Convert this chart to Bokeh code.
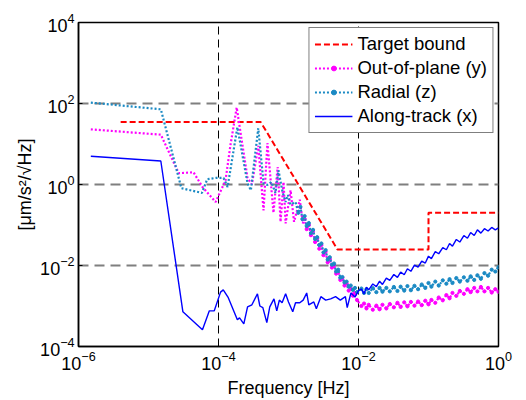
from bokeh.plotting import figure
from bokeh.models import FixedTicker, Legend, LegendItem, Range1d
from bokeh.embed import file_html
from bokeh.resources import INLINE

# ---------------- data ----------------
target_f = [4e-6, 4e-4, 5e-3, 0.1, 0.1, 1.0]
target_a = [35, 35, 0.025, 0.025, 0.2, 0.2]

along_f = [1.5e-6, 1.5e-5, 3.1e-5, 5.9e-5, 7.4e-5, 8.7e-5, 1.07e-4, 1.17e-4, 1.38e-4, 1.86e-4,
           2.0e-4, 2.3e-4, 2.6e-4, 3.0e-4, 3.6e-4, 3.9e-4, 4.3e-4, 4.9e-4, 5.4e-4, 6.2e-4,
           6.8e-4, 7.4e-4, 8.1e-4, 9.1e-4, 1.0e-3, 1.15e-3, 1.26e-3, 1.45e-3, 1.62e-3, 1.82e-3,
           1.95e-3, 2.3e-3, 2.5e-3, 2.9e-3, 3.4e-3, 4.0e-3, 4.7e-3, 5.5e-3, 6.5e-3, 6.9e-3,
           7.8e-3, 8.9e-3, 1.0e-2,
           1.1e-2, 1.2e-2, 1.3e-2, 1.4e-2, 1.6e-2, 1.8e-2, 2.0e-2, 2.2e-2, 2.5e-2, 2.8e-2,
           3.2e-2, 3.6e-2, 4.0e-2, 4.5e-2, 5.0e-2, 5.6e-2, 6.3e-2, 7.1e-2, 8.0e-2, 9.0e-2,
           0.10, 0.11, 0.125, 0.14, 0.16, 0.18, 0.20, 0.22, 0.25, 0.28,
           0.32, 0.36, 0.40, 0.45, 0.50, 0.56, 0.63, 0.71, 0.80, 0.90, 1.0]
along_a = [5.0, 3.8, 7.2e-4, 2.6e-4, 7.6e-4, 7.6e-4, 2.2e-3, 2.5e-3, 1.6e-3, 4.6e-4,
           5.1e-4, 3.6e-4, 9.5e-4, 1.07e-3, 2.0e-3, 1.0e-3, 9.1e-4, 3.9e-4, 9.5e-4, 1.5e-3,
           7.6e-4, 1.4e-3, 1.2e-3, 2.0e-3, 1.26e-3, 7.2e-4, 1.2e-3, 1.2e-3, 1.4e-3, 2.1e-3,
           1.07e-3, 1.26e-3, 8.5e-4, 1.7e-3, 1.4e-3, 1.5e-3, 1.7e-3, 1.4e-3, 1.7e-3, 9.1e-4,
           2.1e-3, 1.66e-3, 2.4e-3,
           2.6e-3, 2.0e-3, 2.9e-3, 2.5e-3, 3.5e-3, 3.0e-3, 4.1e-3, 3.4e-3, 4.9e-3, 4.3e-3,
           6.0e-3, 5.1e-3, 6.9e-3, 5.9e-3, 8.3e-3, 7.2e-3, 1.02e-2, 9.1e-3, 1.29e-2, 1.15e-2,
           1.7e-2, 1.48e-2, 2.2e-2, 1.95e-2, 2.75e-2, 2.45e-2, 3.5e-2, 3.0e-2, 4.4e-2, 3.8e-2,
           5.5e-2, 4.7e-2, 6.5e-2, 5.5e-2, 7.6e-2, 6.3e-2, 8.1e-2, 7.1e-2, 8.7e-2, 7.6e-2, 8.5e-2]

radial_f = [1.5e-6, 1.5e-5, 2.95e-5, 5.8e-5, 6.9e-5, 9.1e-5, 1.18e-4, 1.35e-4, 1.86e-4, 2.6e-4,
            2.9e-4, 3.7e-4, 4.4e-4, 5.0e-4, 5.7e-4, 6.5e-4, 7.2e-4, 8.2e-4, 9.1e-4, 9.8e-4,
            1.07e-3, 1.26e-3,
            1.38e-3, 1.48e-3, 1.58e-3, 1.70e-3, 1.82e-3, 1.95e-3, 2.09e-3, 2.24e-3, 2.40e-3, 2.57e-3,
            2.75e-3, 2.95e-3, 3.16e-3, 3.39e-3, 3.63e-3, 3.89e-3, 4.17e-3, 4.47e-3, 4.79e-3, 5.13e-3,
            5.50e-3, 5.89e-3, 6.31e-3, 6.76e-3, 7.24e-3, 7.76e-3, 8.32e-3, 8.91e-3, 9.55e-3,
            1.1e-2, 1.2e-2, 1.3e-2, 1.4e-2, 1.6e-2, 1.8e-2, 2.0e-2, 2.2e-2, 2.5e-2, 2.8e-2,
            3.2e-2, 3.6e-2, 4.0e-2, 4.5e-2, 5.0e-2, 5.6e-2, 6.3e-2, 7.1e-2, 8.0e-2, 9.0e-2,
            0.10, 0.11, 0.125, 0.14, 0.16, 0.18, 0.20, 0.22, 0.25, 0.28,
            0.32, 0.36, 0.40, 0.45, 0.50, 0.56, 0.63, 0.71, 0.80, 0.90, 1.0]
radial_a = [105, 72, 0.81, 0.62, 1.35, 1.45, 1.45, 0.87, 26, 1.07,
            0.72, 24.5, 1.07, 0.98, 1.15, 0.62, 2.24, 0.66, 0.37, 0.55,
            0.32, 0.37,
            0.20, 0.28, 0.14, 0.166, 0.095, 0.112, 0.063, 0.076, 0.045, 0.050,
            0.032, 0.035, 0.021, 0.024, 0.014, 0.016, 0.0105, 0.0112, 0.0071, 0.0079,
            0.0050, 0.0052, 0.0038, 0.0040, 0.0030, 0.0032, 0.0025, 0.0028, 0.0022,
            2.7e-3, 2.1e-3, 2.6e-3, 2.1e-3, 2.75e-3, 2.2e-3, 2.8e-3, 2.25e-3, 2.8e-3, 2.3e-3,
            2.95e-3, 2.35e-3, 3.0e-3, 2.4e-3, 3.1e-3, 2.45e-3, 3.15e-3, 2.6e-3, 3.4e-3, 2.8e-3,
            3.7e-3, 3.0e-3, 4.0e-3, 3.2e-3, 4.3e-3, 3.55e-3, 4.6e-3, 3.7e-3, 4.9e-3, 4.0e-3,
            5.1e-3, 4.2e-3, 5.4e-3, 4.4e-3, 5.75e-3, 4.7e-3, 6.5e-3, 5.6e-3, 7.9e-3, 7.1e-3, 9.1e-3]
radial_dense_from = 22

oop_f = [1.5e-6, 1.5e-5, 2.7e-5, 4.4e-5, 5.9e-5, 9.1e-5, 1.26e-4, 1.48e-4, 1.82e-4, 2.2e-4,
         2.6e-4, 3.0e-4, 3.7e-4, 4.4e-4, 5.0e-4, 6.1e-4, 7.0e-4, 7.7e-4, 8.5e-4, 9.1e-4,
         1.07e-3, 1.2e-3, 1.45e-3, 1.6e-3,
         1.70e-3, 1.82e-3, 1.95e-3, 2.09e-3, 2.24e-3, 2.40e-3, 2.57e-3, 2.75e-3, 2.95e-3, 3.16e-3,
         3.39e-3, 3.63e-3, 3.89e-3, 4.17e-3, 4.47e-3, 4.79e-3, 5.13e-3, 5.50e-3, 5.89e-3, 6.31e-3,
         6.76e-3, 7.24e-3, 7.76e-3, 8.32e-3, 8.91e-3, 9.55e-3,
         1.1e-2, 1.2e-2, 1.3e-2, 1.4e-2, 1.6e-2, 1.8e-2, 2.0e-2, 2.2e-2, 2.5e-2, 2.8e-2,
         3.2e-2, 3.6e-2, 4.0e-2, 4.5e-2, 5.0e-2, 5.6e-2, 6.3e-2, 7.1e-2, 8.0e-2, 9.0e-2,
         0.10, 0.11, 0.125, 0.14, 0.16, 0.18, 0.20, 0.22, 0.25, 0.28,
         0.32, 0.36, 0.40, 0.45, 0.50, 0.56, 0.63, 0.71, 0.80, 0.90, 1.0]
oop_a = [23, 17, 1.9, 2.0, 0.87, 0.37, 1.26, 9.3, 80, 9.3,
         1.45, 1.0, 9.0, 0.23, 10.5, 0.2, 2.7, 0.12, 1.15, 0.11,
         0.72, 0.12, 0.42, 0.11,
         0.14, 0.079, 0.10, 0.056, 0.071, 0.038, 0.047, 0.026, 0.032, 0.018,
         0.022, 0.012, 0.0145, 0.0089, 0.0102, 0.0063, 0.0072, 0.0044, 0.0050, 0.0032,
         0.0036, 0.0024, 0.0027, 0.0018, 0.0021, 0.0014,
         1.0e-3, 1.15e-3, 8.7e-4, 1.07e-3, 8.1e-4, 1.02e-3, 8.3e-4, 1.07e-3, 8.7e-4, 1.12e-3,
         9.3e-4, 1.2e-3, 9.5e-4, 1.23e-3, 9.8e-4, 1.26e-3, 1.02e-3, 1.29e-3, 1.05e-3, 1.35e-3,
         1.1e-3, 1.41e-3, 1.2e-3, 1.62e-3, 1.38e-3, 1.86e-3, 1.55e-3, 2.1e-3, 1.78e-3, 2.35e-3,
         2.0e-3, 2.6e-3, 2.2e-3, 2.8e-3, 2.3e-3, 2.95e-3, 2.3e-3, 2.8e-3, 2.15e-3, 2.6e-3, 2.25e-3]
oop_dense_from = 24

x_ticks = [1e-6, 1e-4, 1e-2, 1.0]
y_ticks = [1e-4, 1e-2, 1.0, 1e2, 1e4]
x_grid = [1e-4, 1e-2]
y_grid = [1e-2, 1.0, 1e2]

labels = ["Target bound", "Out-of-plane (y)", "Radial (z)", "Along-track (x)"]

# ---------------- figure ----------------
FONT = "Liberation Sans"
RED, MAG, TEAL, BLUE = "#FF0000", "#FF00FF", "#1B8AC4", "#0000FF"

p = figure(width=526, height=400, x_axis_type="log", y_axis_type="log",
           x_range=Range1d(1e-6, 1.0), y_range=Range1d(1e-4, 1e4),
           output_backend="svg", toolbar_location=None,
           min_border_left=78, min_border_right=28, min_border_top=22, min_border_bottom=53)
p.background_fill_color = "white"
p.border_fill_color = "white"
p.outline_line_color = "black"
p.outline_line_width = 1.5

for ax, ticks in ((p.xaxis[0], x_ticks), (p.yaxis[0], y_ticks)):
    ax.ticker = FixedTicker(ticks=ticks, minor_ticks=[])
    ax.major_tick_in = 4
    ax.major_tick_out = 0
    ax.minor_tick_line_color = None
    ax.axis_line_width = 1.5
    ax.axis_line_color = "black"
    ax.major_tick_line_color = "black"
    ax.major_label_text_font = FONT
    ax.major_label_text_font_size = "18px"
    ax.major_label_text_color = "black"
    ax.axis_label_text_font = FONT
    ax.axis_label_text_font_size = "18px"
    ax.axis_label_text_font_style = "normal"
    ax.axis_label_text_color = "black"
    ax.major_label_standoff = 4

p.xaxis.axis_label = "Frequency [Hz]"
p.yaxis.axis_label = "[μm/s²/√Hz]"
p.xaxis.axis_label_standoff = 5
p.yaxis.axis_label_standoff = 2

p.xgrid.ticker = FixedTicker(ticks=x_grid, minor_ticks=[])
p.xgrid.grid_line_color = "black"
p.xgrid.grid_line_width = 1
p.xgrid.grid_line_dash = "8 5"
p.ygrid.ticker = FixedTicker(ticks=y_grid, minor_ticks=[])
p.ygrid.grid_line_color = "#7F7F7F"
p.ygrid.grid_line_width = 1.8
p.ygrid.grid_line_dash = "10 6"

r_t = p.line(target_f, target_a, line_color=RED, line_width=2, line_dash="6 3")
r_o = p.line(oop_f, oop_a, line_color=MAG, line_width=2.2, line_dash="2 2")
r_os = p.scatter(oop_f[oop_dense_from:], oop_a[oop_dense_from:], marker="circle", size=3.2,
                 fill_color=MAG, line_color=MAG)
r_r = p.line(radial_f, radial_a, line_color=TEAL, line_width=2.2, line_dash="2 2")
r_rs = p.scatter(radial_f[radial_dense_from:], radial_a[radial_dense_from:], marker="circle", size=3.2,
                 fill_color=TEAL, line_color=TEAL)
r_a = p.line(along_f, along_a, line_color=BLUE, line_width=1.4)

legend = Legend(items=[
    LegendItem(label=labels[0], renderers=[r_t]),
    LegendItem(label=labels[1], renderers=[r_o, r_os]),
    LegendItem(label=labels[2], renderers=[r_r, r_rs]),
    LegendItem(label=labels[3], renderers=[r_a]),
], location="top_right")
legend.margin = 5
legend.padding = 5
legend.spacing = 2
legend.glyph_width = 38
legend.glyph_height = 12
legend.label_height = 21
legend.label_standoff = 5
legend.label_text_font = FONT
legend.label_text_font_size = "18.5px"
legend.label_text_color = "black"
legend.border_line_color = "black"
legend.border_line_width = 1.5
legend.background_fill_alpha = 1.0
p.add_layout(legend)

open("out.html", "w").write(file_html(p, INLINE))
